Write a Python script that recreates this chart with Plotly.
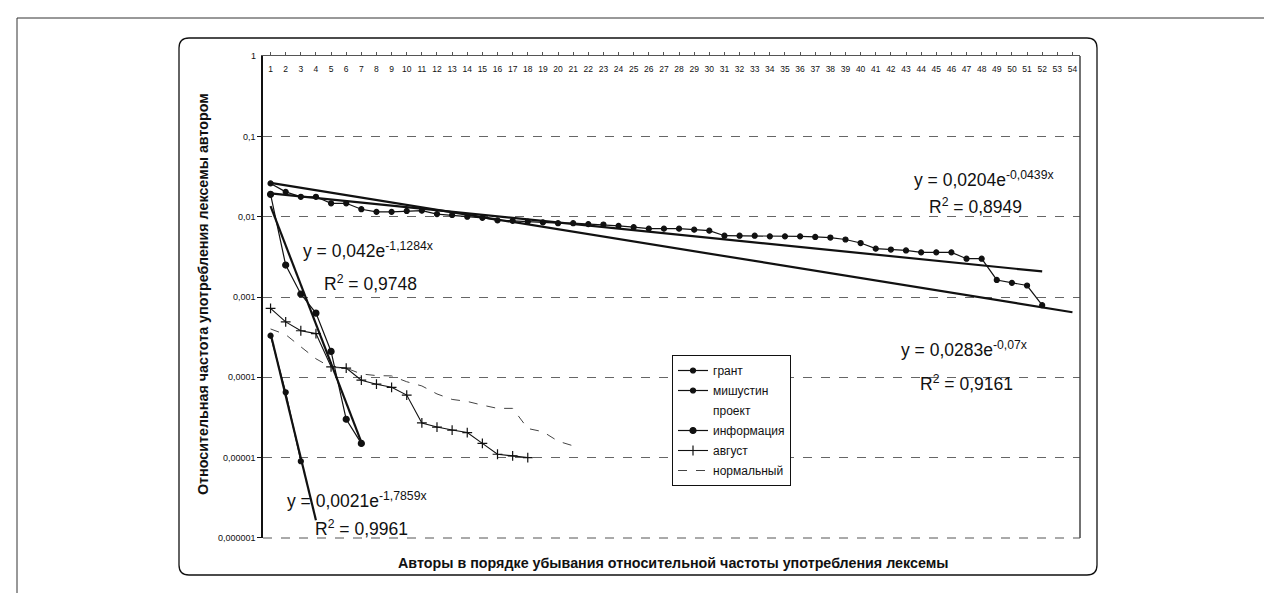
import numpy as np
import plotly.graph_objects as go

# ---------------- data ----------------
authors = list(range(1, 55))

grant = [0.026, 0.0204, 0.0177, 0.0177, 0.0147, 0.0147, 0.0124, 0.0115, 0.0115, 0.0118,
         0.0119, 0.0108, 0.0105, 0.0100, 0.0097, 0.0090, 0.0089, 0.0087, 0.0085, 0.0083,
         0.0083, 0.0081, 0.0080, 0.0077, 0.0074, 0.0071, 0.0071, 0.0071, 0.0069, 0.0067,
         0.0058, 0.0058, 0.0058, 0.0057, 0.0057, 0.0057, 0.0056, 0.0055, 0.0052, 0.0047,
         0.0040, 0.0039, 0.0038, 0.0036, 0.0036, 0.0036, 0.0030, 0.0030, 0.00163, 0.00150,
         0.00139, 0.00079]
mishustin = [0.00033, 0.000065, 0.000009]
informatsiya = [0.019, 0.0025, 0.00109, 0.00063, 0.00021, 0.000030, 0.000015]
avgust = [0.00072, 0.00049, 0.00038, 0.00035, 0.000135, 0.00013, 0.000092, 0.000082, 0.000075,
          0.000060, 0.000027, 0.000024, 0.000022, 0.0000205, 0.000015, 0.000011, 0.0000105,
          0.0000100]
normalny = [0.00040, 0.00034, 0.00024, 0.00017, 0.000133, 0.00013, 0.00011, 0.000105, 0.000104,
            0.000088, 0.000078, 0.000062, 0.000053, 0.000050, 0.000045, 0.000041, 0.000041,
            0.000023, 0.000021, 0.000016, 0.000014]
proekt = [None]  # series drawn without line or marker in the original

# exponential trendlines y = a*exp(b*x) as printed on the chart, with x-span of each
trend_grant = dict(a=0.0204, b=-0.0439, r2="0,8949", x_end=52)
trend_proekt = dict(a=0.0283, b=-0.07, r2="0,9161", x_end=54)
trend_info = dict(a=0.042, b=-1.1284, r2="0,9748", x_end=7)
trend_mish = dict(a=0.0021, b=-1.7859, r2="0,9961", x_end=4)

y_tick_vals = [1e-6, 1e-5, 1e-4, 1e-3, 1e-2, 1e-1, 1]
y_tick_text = ["0,000001", "0,00001", "0,0001", "0,001", "0,01", "0,1", "1"]

y_title = "Относительная частота употребления лексемы автором"
x_title = "Авторы в порядке убывания относительной частоты употребления лексемы"

# ---------------- figure ----------------
OFF = 8                      # page body margin of the html page
W, H = 1272 - OFF, 593 - OFF
L, R, T, B = 263, 1080, 56, 538   # plot area in screen px
pw, ph = R - L, B - T


def px(x):
    return (x - L) / pw


def py(y):
    return (B - y) / ph


INK = "#111111"
FONT = "Arial, Liberation Sans, sans-serif"

fig = go.Figure()


def series(name, vals, msym, msize, width=1.2, dash="solid", color=INK, mode="lines+markers"):
    fig.add_trace(go.Scatter(
        x=authors[:len(vals)], y=vals, name=name, mode=mode, legendgroup=name,
        line=dict(color=color, width=width, dash=dash),
        marker=dict(symbol=msym, size=msize, color=color, line=dict(color=color, width=1.2)),
    ))


series("грант", grant, "circle", 5)
series("мишустин", mishustin, "circle", 5)
fig.add_trace(go.Scatter(x=authors[:len(proekt)], y=proekt, name="проект", mode="lines",
                         legendgroup="проект", line=dict(color="rgba(0,0,0,0)", width=0)))
series("информация", informatsiya, "circle", 6)
series("август", avgust, "cross-thin", 7, width=1.1)
series("нормальный", normalny, "circle", 1, width=1, dash="dash", color="#444444", mode="lines")

for tr in (trend_grant, trend_proekt, trend_info, trend_mish):
    xs = np.arange(1, tr["x_end"] + 1)
    ys = tr["a"] * np.exp(tr["b"] * xs)
    fig.add_trace(go.Scatter(x=xs, y=ys, mode="lines", showlegend=False, hoverinfo="skip",
                             line=dict(color=INK, width=2.2)))


def fmt(v):
    return str(v).replace(".", ",")


def eq_text(tr):
    return f"y = {fmt(tr['a'])}e<sup>{fmt(tr['b'])}x</sup>"


def note(text, x, y, size, **kw):
    d = dict(text=text, x=px(x), y=py(y), xref="paper", yref="paper", showarrow=False,
             xanchor="center", yanchor="middle", font=dict(family=FONT, size=size, color=INK))
    d.update(kw)
    return d


ann_pos = [  # (trend, eq center px, r2 center px)
    (trend_grant, (984, 179), (975, 206)),
    (trend_info, (368, 250), (370, 283)),
    (trend_proekt, (964, 349), (966, 383)),
    (trend_mish, (357, 500), (361, 528)),
]
annotations = []
for tr, (ex, ey), (rx, ry) in ann_pos:
    annotations.append(note(eq_text(tr), ex, ey, 17.5))
    annotations.append(note(f"R<sup>2</sup> = {tr['r2']}", rx, ry, 17.5))

annotations.append(note(f"<b>{y_title}</b>", 203, 294, 14.3, textangle=-90))
annotations.append(note(f"<b>{x_title}</b>", 673, 563, 14.3))
# top tick label of the value axis
annotations.append(note(y_tick_text[-1], 258, 56, 9, xanchor="right"))

# rounded chart-area frame
fx0, fx1, fy0, fy1 = px(179), px(1097), py(575), py(38)
rx_, ry_ = 10 / pw, 10 / ph
frame_path = (f"M {fx0 + rx_},{fy1} L {fx1 - rx_},{fy1} Q {fx1},{fy1} {fx1},{fy1 - ry_} "
              f"L {fx1},{fy0 + ry_} Q {fx1},{fy0} {fx1 - rx_},{fy0} "
              f"L {fx0 + rx_},{fy0} Q {fx0},{fy0} {fx0},{fy0 + ry_} "
              f"L {fx0},{fy1 - ry_} Q {fx0},{fy1} {fx0 + rx_},{fy1} Z")

shapes = [
    dict(type="path", path=frame_path, xref="paper", yref="paper", line=dict(color=INK, width=1.3)),
    # scan page edges
    dict(type="line", xref="paper", yref="paper", x0=px(17), x1=px(1280), y0=py(18), y1=py(18),
         line=dict(color="#333", width=1)),
    dict(type="line", xref="paper", yref="paper", x0=px(17), x1=px(17), y0=py(18), y1=py(600),
         line=dict(color="#333", width=1)),
    # plot area right and bottom edges
    dict(type="line", xref="paper", yref="paper", x0=1, x1=1, y0=0, y1=1,
         line=dict(color="#444", width=1.5)),
    dict(type="line", xref="paper", yref="paper", x0=0, x1=1, y0=0, y1=0,
         line=dict(color="#555", width=1, dash="dash")),
]

fig.update_layout(
    width=W, height=H,
    margin=dict(l=L - OFF, r=(1272 - R), t=T - OFF, b=(593 - B)),
    paper_bgcolor="white", plot_bgcolor="white",
    font=dict(family=FONT, color=INK),
    showlegend=True,
    legend=dict(x=px(672), y=py(355), xanchor="left", yanchor="top",
                bgcolor="white", bordercolor=INK, borderwidth=1,
                font=dict(family=FONT, size=12, color=INK), tracegroupgap=1,
                itemwidth=30),
    annotations=annotations, shapes=shapes,
    xaxis=dict(range=[0.5, 54.5], side="top", tickmode="array", tickvals=authors,
               ticktext=[str(a) for a in authors], ticklabelposition="inside",
               ticklabelstandoff=9,
               tickfont=dict(size=8.5, color=INK), ticks="outside", ticklen=3, tickcolor="#555",
               showline=True, linecolor="#555", linewidth=1, showgrid=False, zeroline=False),
    yaxis=dict(type="log", range=[-6.002, 0.002], tickmode="array", tickvals=y_tick_vals,
               ticktext=y_tick_text, tickfont=dict(size=9, color=INK), ticks="outside",
               ticklen=4, tickcolor=INK, showline=True, linecolor=INK, linewidth=1.5,
               showgrid=True, gridcolor="#666", gridwidth=1, griddash="dash", zeroline=False),
)

fig.write_html("out.html")
